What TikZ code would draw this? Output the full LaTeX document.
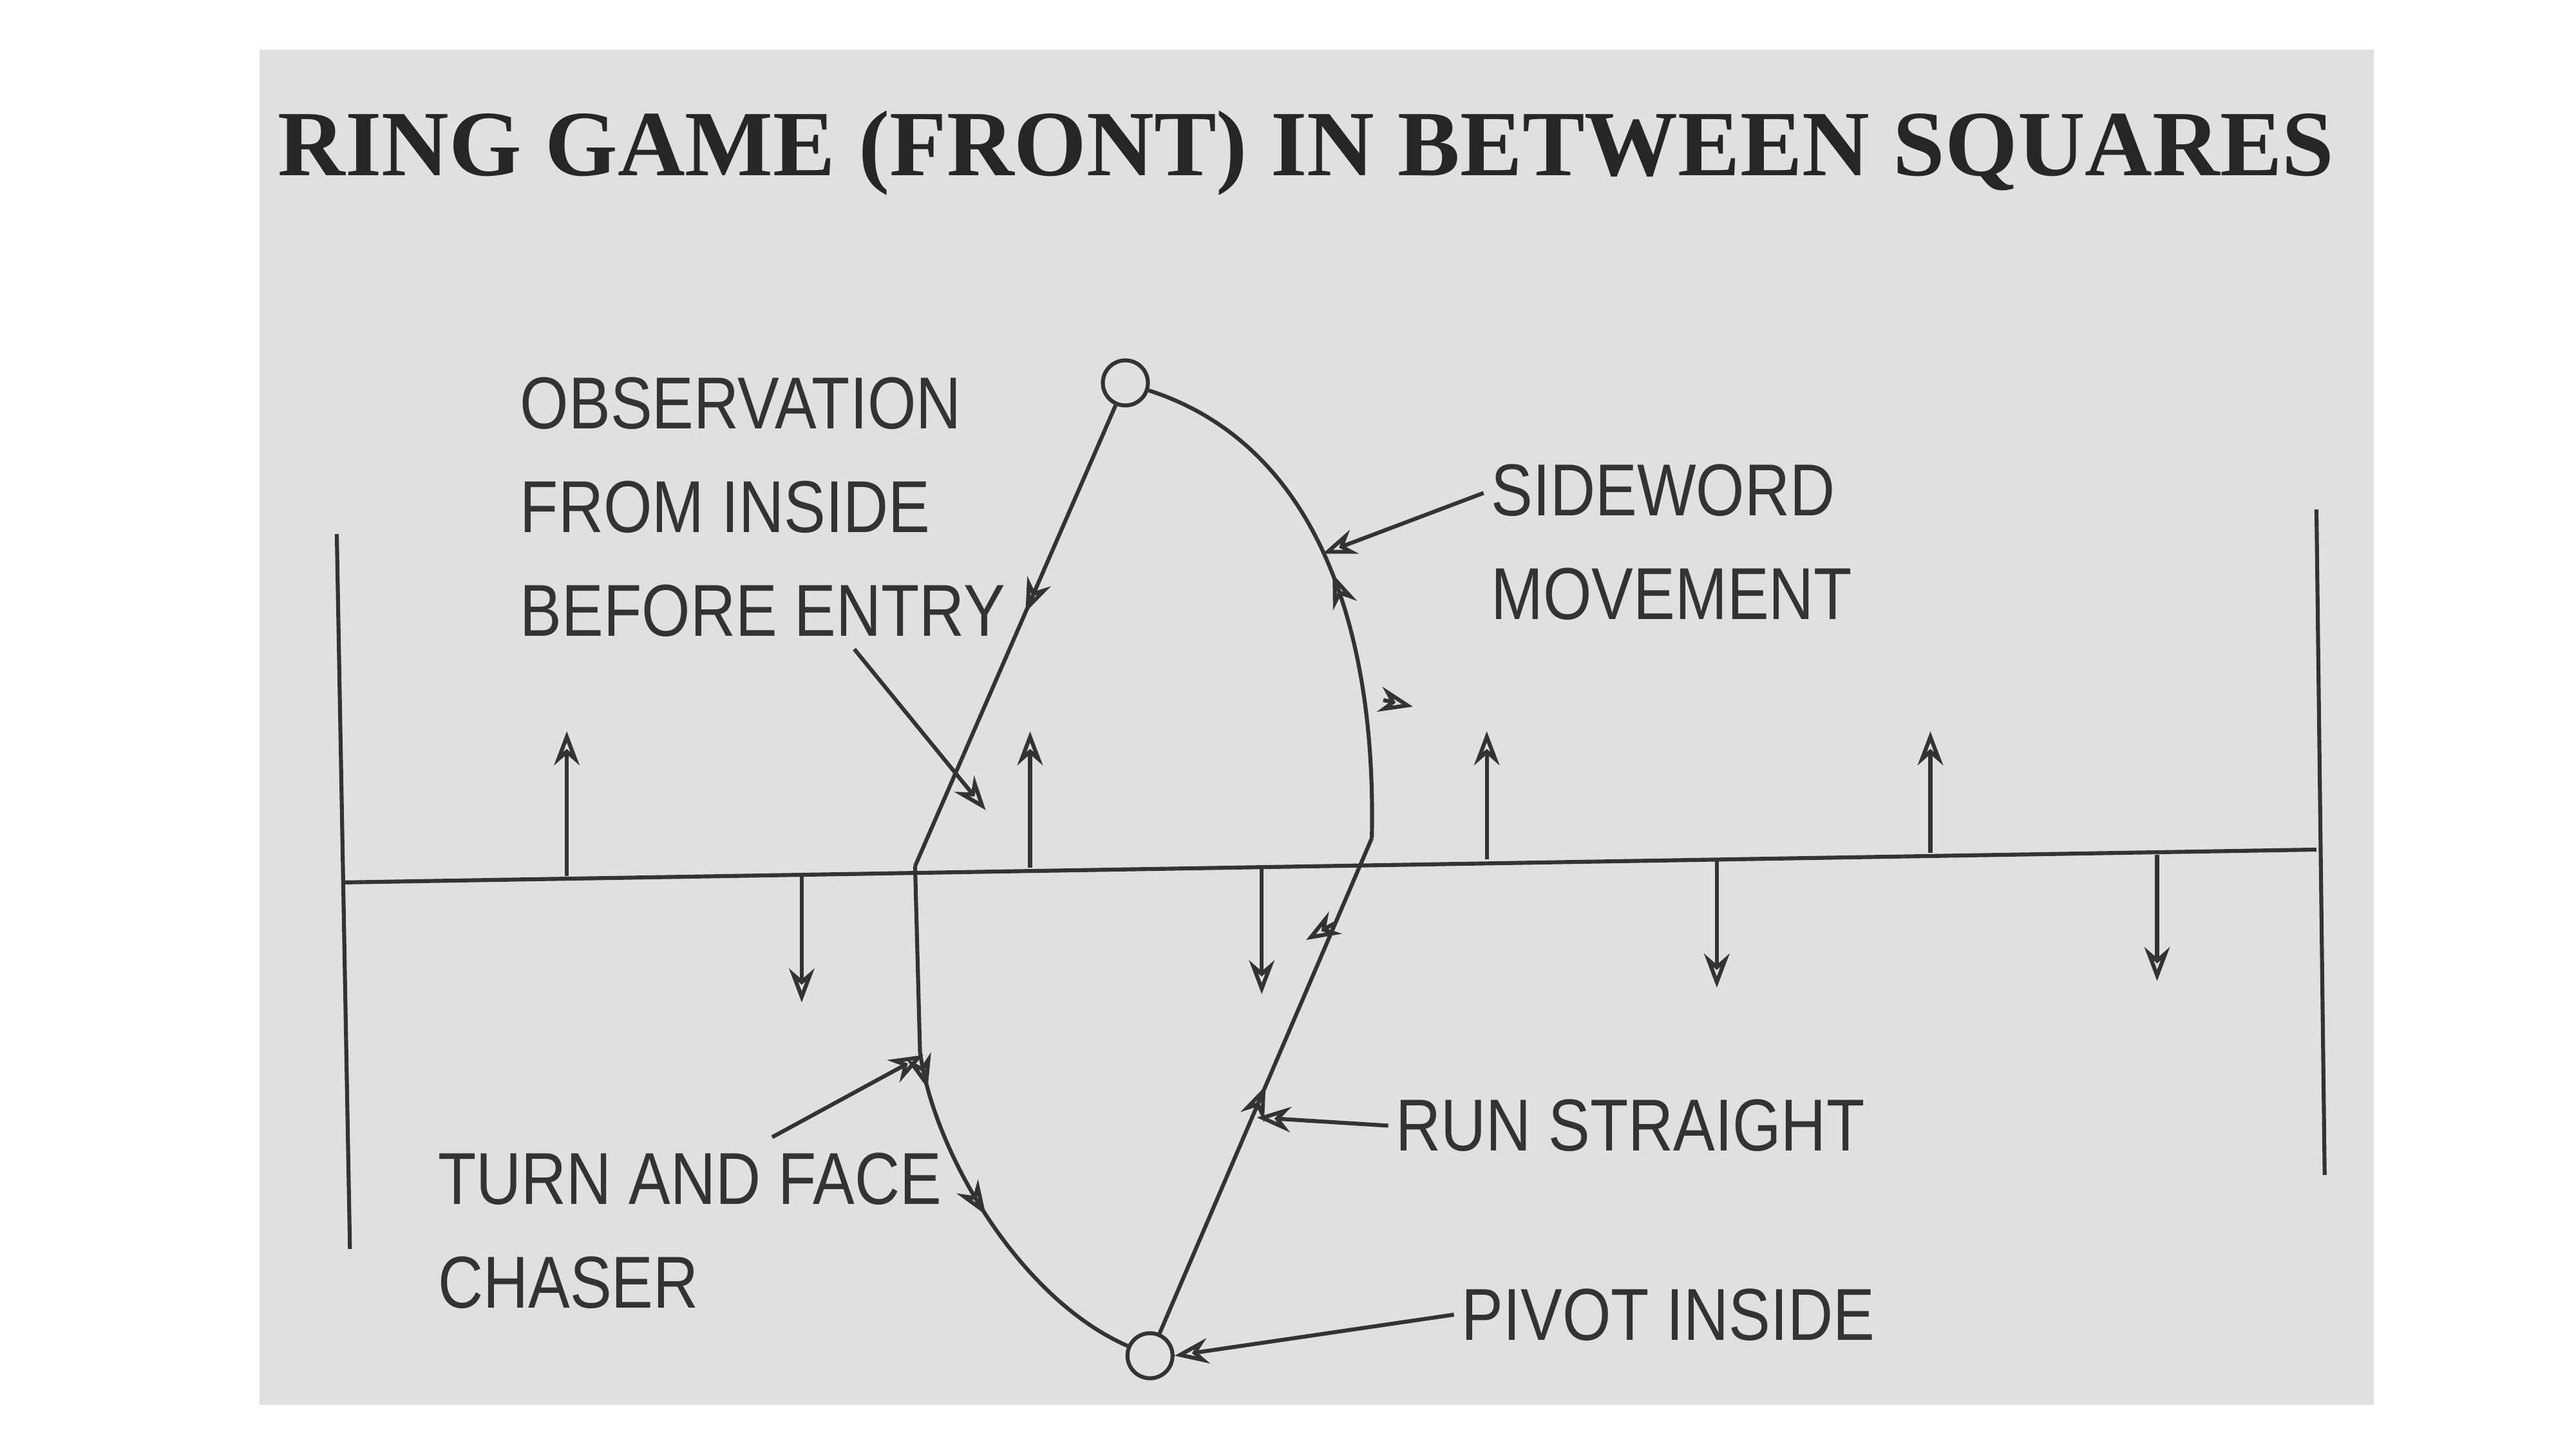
\documentclass[tikz,border=0pt]{standalone}
\usepackage{fontspec}
\setmainfont{Liberation Serif}
\newfontfamily\lblfont[FakeStretch=0.85]{Liberation Sans}
\usetikzlibrary{arrows.meta,positioning,decorations.markings}
\tikzset{
  lbl/.style={font=\lblfont\fontsize{13}{18.3}\selectfont, align=left, inner sep=1pt},
  arr/.style={-{Stealth[length=6pt,width=4.5pt,open]}},
  mid/.style={postaction={decorate,decoration={markings,mark=at position #1 with {\arrow{Stealth[length=6pt,width=4.5pt,open]}}}}}
}
\begin{document}
\begin{tikzpicture}[x=0.010204cm, y=-0.010204cm, line width=0.7pt, color=black!80]
\useasboundingbox (0,0) rectangle (1568,882);
\fill[black!12] (158,30) rectangle (1445,855);
\node[font=\bfseries\fontsize{16.5}{20}\selectfont, text=black!85] (title) at (795,93) {RING GAME (FRONT) IN BETWEEN SQUARES};
% court lines
\draw (205,325) -- (213,760);
\draw (1410,310) -- (1415,715);
\draw (208,537) -- (1410,517);
\foreach \x/\y in {345/533,627/528,905/523,1175/519} \draw[arr] (\x,\y) -- (\x,445);
\foreach \x/\y in {488/533,768/528,1045/524,1313/520} \draw[arr] (\x,\y) -- (\x,\y+77);
% path
\node[circle, draw, minimum size=0.28cm, inner sep=0pt] (top) at (685,233) {};
\node[circle, draw, minimum size=0.28cm, inner sep=0pt] (bot) at (700,825) {};
\coordinate (entry) at (557,527);
\coordinate (side) at (835,510);
\draw[mid=0.45] (top) -- (entry);
\draw[mid=0.4, mid=0.65] (entry) -- (560,640) .. controls (568,700) and (620,790) .. (bot);
\draw[mid=0.5] (bot) -- (side);
\draw[mid=0.5] (side) .. controls (838,380) and (800,270) .. (top);
\draw[arr] (842,426) -- (860,430);
\draw[arr] (812,562) -- (795,572);
% labels
\node[lbl, anchor=north west] (obs) at (312,225) {OBSERVATION\\FROM INSIDE\\BEFORE ENTRY};
\draw[arr] (520,395) -- (600,493);
\node[lbl, anchor=north west] (sidew) at (903,278) {SIDEWORD\\MOVEMENT};
\draw[arr] (sidew.west |- 0,300) -- (805,337);
\node[lbl, anchor=west] (run) at (845,685) {RUN STRAIGHT};
\draw[arr] (run.west) -- (765,680);
\node[lbl, anchor=west] (pivot) at (885,800) {PIVOT INSIDE};
\draw[arr] (pivot.west) -- (bot.east);
\node[lbl, anchor=north west] (turn) at (262,697) {TURN AND FACE\\CHASER};
\draw[arr] (470,692) -- (562,642);
\end{tikzpicture}
\end{document}
